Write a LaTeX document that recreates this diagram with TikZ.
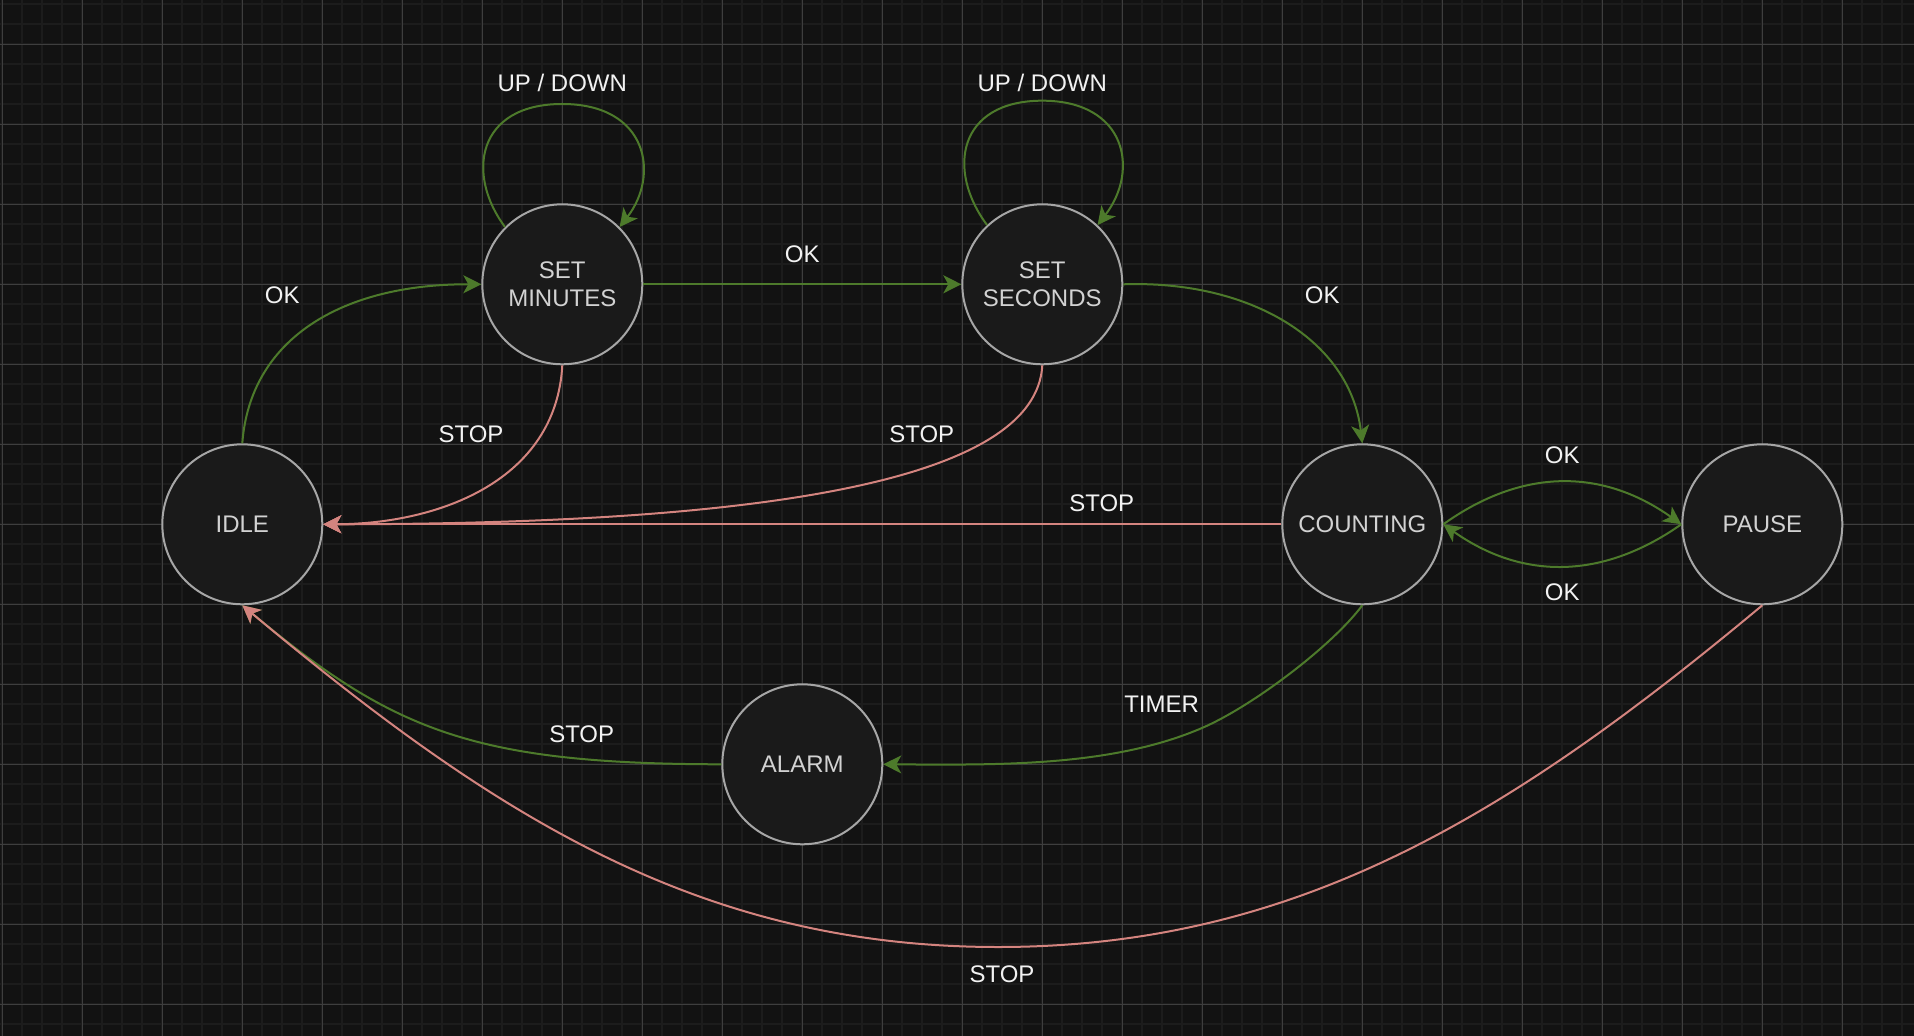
\documentclass[tikz,border=0pt]{standalone}
\usepackage{fontspec}
\setmainfont{Liberation Sans}
\usetikzlibrary{arrows.meta}
\definecolor{bg}{HTML}{121212}
\definecolor{gridminor}{HTML}{1C1C1C}
\definecolor{gridmajor}{HTML}{3E3E3E}
\definecolor{statefill}{HTML}{1A1A1A}
\definecolor{statestroke}{HTML}{A6A6A6}
\definecolor{statetext}{HTML}{D2D2D2}
\definecolor{okgreen}{HTML}{4D7A2B}
\definecolor{stoppink}{HTML}{D4847F}
\definecolor{labeltext}{HTML}{F2F2F2}
\begin{document}
\begin{tikzpicture}[x=0.5pt,y=-0.5pt,
  state/.style={circle, draw=statestroke, fill=statefill, line width=1pt,
    minimum size=80pt, inner sep=0pt, text=statetext, align=center,
    font=\fontsize{12}{14.3}\selectfont},
  lbl/.style={text=labeltext, font=\fontsize{12}{14.3}\selectfont, inner sep=0pt},
  arrowtip/.style={-{Stealth[length=9pt,width=9pt,inset=2.5pt]}},
  goedge/.style={draw=okgreen, line width=1pt, arrowtip},
  stopedge/.style={draw=stoppink, line width=1pt, arrowtip},
  minorline/.style={draw=gridminor, line width=1pt},
  majorline/.style={draw=gridmajor, line width=0.6pt},
]
\useasboundingbox (0,0) rectangle (1914,1036);
\fill[bg] (0,0) rectangle (1914,1036);
% grid
\foreach \i in {0,...,95} \draw[minorline] ({2.3+20*\i},0) -- ({2.3+20*\i},1036);
\foreach \j in {0,...,51} \draw[minorline] (0,{4.3+20*\j}) -- (1914,{4.3+20*\j});
\foreach \i in {0,...,23} \draw[majorline] ({2.3+80*\i},0) -- ({2.3+80*\i},1036);
\foreach \j in {0,...,12} \draw[majorline] (0,{44.3+80*\j}) -- (1914,{44.3+80*\j});

% states
\node[state] (idle) at (242.3,524.3) {IDLE};
\node[state] (setmin) at (562.3,284.3) {SET\\MINUTES};
\node[state] (setsec) at (1042.3,284.3) {SET\\SECONDS};
\node[state] (counting) at (1362.3,524.3) {COUNTING};
\node[state] (pause) at (1762.3,524.3) {PAUSE};
\node[state] (alarm) at (802.3,764.3) {ALARM};

% green transitions
\draw[goedge] (idle.north) .. controls (250,340) and (340,284) .. (setmin.west);
\draw[goedge] (setmin.east) -- (setsec.west);
\draw[goedge] (setsec.east) .. controls (1250,280) and (1350,340) .. (counting.north);
\draw[goedge] (setmin.135) .. controls (466,175) and (476,104) .. (562.3,104)
   .. controls (648,104) and (660,175) .. (setmin.45);
\draw[goedge] (setsec.133) .. controls (946,170) and (958,100.7) .. (1042.3,100.7)
   .. controls (1126,100.7) and (1140,170) .. (setsec.47);
\draw[goedge] (counting.east) .. controls (1522,468) and (1602,468) .. (pause.west);
\draw[goedge] (pause.west) .. controls (1602,580) and (1522,580) .. (counting.east);
\draw[goedge] (counting.south) .. controls (1332,646) and (1252,706.5) .. (1202,728)
   .. controls (1112,766.7) and (1000,765) .. (alarm.east);
\draw[goedge] (alarm.west) .. controls (472,764) and (392,730) .. (idle.south);

% stop transitions
\draw[stopedge] (pause.south) .. controls (1512,814) and (1298,947) .. (998,947)
   .. controls (698,947) and (492,814) .. (idle.south);
\draw[stopedge] (setmin.south) .. controls (556,480) and (440,524) .. (idle.east);
\draw[stopedge] (setsec.south) .. controls (1036,480) and (770,524) .. (idle.east);
\draw[stopedge] (counting.west) -- (idle.east);

% labels
\node[lbl] (lok1) at (282.3,295) {OK};
\node[lbl] (lok2) at (802.3,254) {OK};
\node[lbl] (lok3) at (1322.3,295) {OK};
\node[lbl] (lud1) at (562.3,82.7) {UP / DOWN};
\node[lbl] (lud2) at (1042.3,82.7) {UP / DOWN};
\node[lbl] (lstop1) at (471,434) {STOP};
\node[lbl] (lstop2) at (921.7,434) {STOP};
\node[lbl] (lstop3) at (1101.7,503.5) {STOP};
\node[lbl] (lok4) at (1562.3,455) {OK};
\node[lbl] (lok5) at (1562.3,592.7) {OK};
\node[lbl] (ltimer) at (1161.6,704.3) {TIMER};
\node[lbl] (lstop4) at (581.7,734.3) {STOP};
\node[lbl] (lstop5) at (1002,974.3) {STOP};
\end{tikzpicture}
\end{document}
